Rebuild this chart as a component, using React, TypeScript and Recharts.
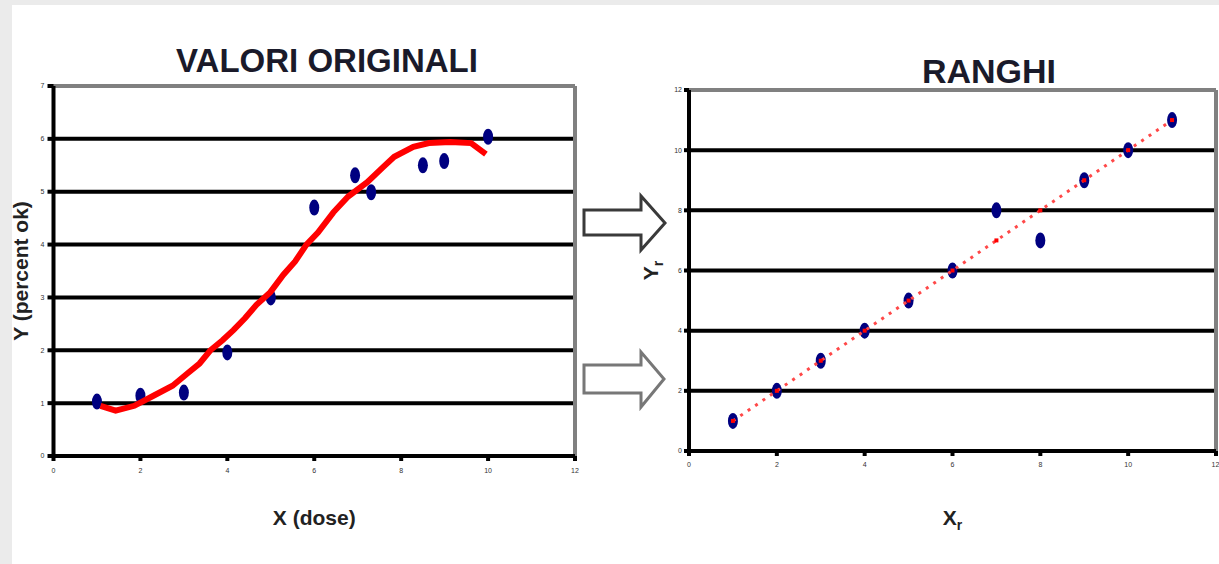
import React from 'react'
import { ScatterChart, Scatter, XAxis, YAxis, CartesianGrid, ReferenceLine } from 'recharts'

// original values (dose vs response)
const doseX = [1, 2, 3, 4, 5, 6, 6.94, 7.31, 8.5, 8.99, 10]
const responseY = [1.03, 1.14, 1.2, 1.96, 3.0, 4.7, 5.31, 4.99, 5.5, 5.58, 6.04]

// fitted sigmoid
const fitX = [1.08, 1.43, 1.86, 2.3, 2.74, 3.08, 3.36, 3.61, 3.89, 4.14, 4.41, 4.67, 4.99, 5.29, 5.56, 5.82, 6.09, 6.44, 6.78, 7.22, 7.59, 7.84, 8.28, 8.64, 9.13, 9.61, 9.95]
const fitY = [0.95, 0.86, 0.95, 1.14, 1.33, 1.56, 1.75, 2.0, 2.19, 2.38, 2.61, 2.86, 3.1, 3.43, 3.68, 4.0, 4.23, 4.61, 4.91, 5.18, 5.47, 5.66, 5.85, 5.92, 5.94, 5.92, 5.71]

// ranks
const rankX = [1, 2, 3, 4, 5, 6, 7, 8, 9, 10, 11]
const rankY = [1, 2, 3, 4, 5, 6, 8, 7, 9, 10, 11]
const rankLine = [1, 2, 3, 4, 5, 6, 7, 8, 9, 10, 11]

const origXTicks = [0, 2, 4, 6, 8, 10, 12]
const origYTicks = [0, 1, 2, 3, 4, 5, 6, 7]
const rankTicks = [0, 2, 4, 6, 8, 10, 12]

const FONT = '"Liberation Sans", Arial, sans-serif'
const NAVY = '#000080'

const origPoints = doseX.map((x, i) => ({ x, y: responseY[i] }))
const fitPoints = fitX.map((x, i) => ({ x, y: fitY[i] }))
const rankPoints = rankX.map((x, i) => ({ x, y: rankY[i] }))
const rankLinePoints = rankX.map((x, i) => ({ x, y: rankLine[i] }))

const Dot = (p: any) => <ellipse cx={p.cx} cy={p.cy} rx={5} ry={8} fill={NAVY} />
const NoDot = () => <g />
const RedSquare = (p: any) => <rect x={p.cx - 2} y={p.cy - 2} width={4} height={4} fill="#ff0000" />

const tickStyle = { fontSize: 7, fill: '#333', fontFamily: FONT }
const axisLine = { stroke: '#000', strokeWidth: 4 }
const tickLine = { stroke: '#000', strokeWidth: 4 }
const titleStyle = { fontSize: 21, fontWeight: 700, fill: '#222', fontFamily: FONT }

// axis title with optional subscript; `shift` is the gap from the axis box
function SubLabel({ viewBox, text, sub, vertical, shift }: any) {
  if (!viewBox) return null
  const { x, y, width, height } = viewBox
  if (vertical) {
    const cx = x - shift
    const cy = y + height / 2
    return (
      <text x={cx} y={cy} transform={`rotate(-90, ${cx}, ${cy})`} textAnchor="middle" dy={7} style={titleStyle}>
        {text}<tspan fontSize={14} dy={5}>{sub}</tspan>
      </text>
    )
  }
  const cx = x + width / 2
  const cy = y + height + shift
  return (
    <text x={cx} y={cy} textAnchor="middle" dy={15} style={titleStyle}>
      {text}<tspan fontSize={14} dy={5}>{sub}</tspan>
    </text>
  )
}

function Arrow({ pts, stroke }: { pts: string; stroke: string }) {
  return <polygon points={pts} fill="#fff" stroke={stroke} strokeWidth={3} strokeLinejoin="miter" />
}

export default function App() {
  return (
    <div style={{ position: 'absolute', left: 0, top: 0, width: 1219, height: 564, background: '#ebebeb', overflow: 'hidden', fontFamily: FONT }}>
      <div style={{ position: 'absolute', left: 12, top: 5, right: 0, bottom: 0, background: '#fff' }} />

      <div style={{ position: 'absolute', left: 327, top: 45, transform: 'translateX(-50%)', fontSize: 33, fontWeight: 700, lineHeight: '32px', color: '#1a1a2a', whiteSpace: 'nowrap' }}>
        VALORI ORIGINALI
      </div>
      <div style={{ position: 'absolute', left: 989, top: 55, transform: 'translateX(-50%)', fontSize: 34, fontWeight: 700, lineHeight: '32px', color: '#1a1a2a', whiteSpace: 'nowrap' }}>
        RANGHI
      </div>

      <div style={{ position: 'absolute', left: 0, top: 0 }}>
        <ScatterChart width={600} height={564} margin={{ top: 86, right: 25, bottom: 78, left: 23.5 }}>
          <CartesianGrid horizontal vertical={false} stroke="#000" strokeWidth={4} />
          <XAxis
            type="number" dataKey="x" domain={[0, 12]} ticks={origXTicks} height={30}
            tick={tickStyle} tickSize={5} tickMargin={7} axisLine={axisLine} tickLine={tickLine}
            label={<SubLabel text="X (dose)" sub="" shift={24} />}
          />
          <YAxis
            type="number" dataKey="y" domain={[0, 7]} ticks={origYTicks} width={30}
            tick={tickStyle} tickSize={6} tickMargin={3} axisLine={axisLine} tickLine={tickLine}
            label={<SubLabel text="Y (percent ok)" sub="" vertical shift={2.5} />}
          />
          <ReferenceLine y={7} stroke="#808080" strokeWidth={4} />
          <ReferenceLine x={12} stroke="#808080" strokeWidth={4} />
          <Scatter data={origPoints} shape={Dot} isAnimationActive={false} />
          <Scatter data={fitPoints} shape={NoDot} line={{ stroke: '#ff0000', strokeWidth: 6 }} lineType="joint" isAnimationActive={false} />
        </ScatterChart>
      </div>

      <div style={{ position: 'absolute', left: 600, top: 0 }}>
        <ScatterChart width={619} height={564} margin={{ top: 90, right: 3, bottom: 83, left: 59 }}>
          <CartesianGrid horizontal vertical={false} stroke="#000" strokeWidth={4} />
          <XAxis
            type="number" dataKey="x" domain={[0, 12]} ticks={rankTicks} height={30}
            tick={tickStyle} tickSize={5} tickMargin={6} axisLine={axisLine} tickLine={tickLine}
            label={<SubLabel text="X" sub="r" shift={29} />}
          />
          <YAxis
            type="number" dataKey="y" domain={[0, 12]} ticks={rankTicks} width={30}
            tick={tickStyle} tickSize={5} tickMargin={2} axisLine={axisLine} tickLine={tickLine}
            label={<SubLabel text="Y" sub="r" vertical shift={8} />}
          />
          <ReferenceLine y={12} stroke="#808080" strokeWidth={4} />
          <ReferenceLine x={12} stroke="#808080" strokeWidth={4} />
          <Scatter data={rankPoints} shape={Dot} isAnimationActive={false} />
          <Scatter data={rankLinePoints} shape={RedSquare} line={{ stroke: '#ff4848', strokeWidth: 3, strokeDasharray: '3 6' }} lineType="joint" isAnimationActive={false} />
        </ScatterChart>
      </div>

      <svg width={1219} height={564} style={{ position: 'absolute', left: 0, top: 0, pointerEvents: 'none' }}>
        <Arrow pts="584,210 641,210 641,196 665,223 641,250 641,235 584,235" stroke="#3a3a3a" />
        <Arrow pts="584,365 641,365 641,352 664,379 641,407 641,393 584,393" stroke="#777" />
      </svg>
    </div>
  )
}
